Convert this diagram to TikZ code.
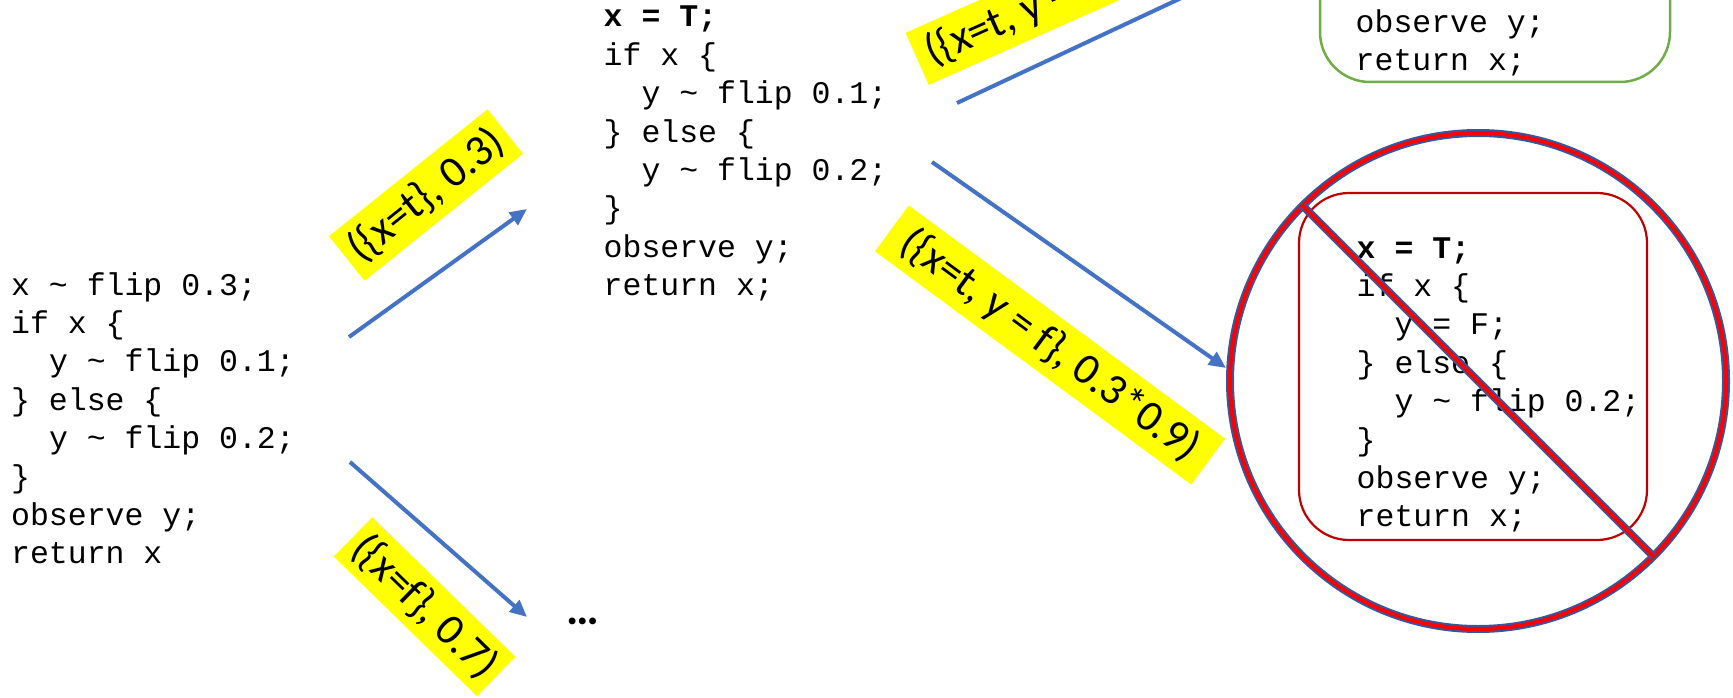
\documentclass[tikz,border=0pt]{standalone}
\usepackage{fontspec}
\setmonofont{Liberation Mono}
\newfontfamily\lblfont{Carlito}
\usetikzlibrary{arrows.meta,calc}

\definecolor{arrowblue}{RGB}{68,114,196}
\definecolor{ringblue}{RGB}{52,88,160}
\definecolor{ringred}{RGB}{255,0,0}
\definecolor{boxred}{RGB}{192,0,0}
\definecolor{boxgreen}{RGB}{112,173,71}
\definecolor{hilite}{RGB}{255,255,0}

% one line of program text
\newcommand\cl[1]{\hbox{#1}}
\newcommand\tld{\textasciitilde{}}

\tikzset{
  code/.style={anchor=base west, inner sep=0pt,
    font=\ttfamily\fontsize{31.5}{38.4}\selectfont},
  lbl/.style={fill=hilite, inner sep=0pt, minimum height=57pt,
    font=\lblfont\fontsize{44}{44}\selectfont},
  flow/.style={draw=arrowblue, line width=4pt,
    -{Triangle[length=17pt,width=15pt]}},
  roundbox/.style={rectangle, rounded corners=50pt, inner sep=0pt},
}

\begin{document}
\begin{tikzpicture}[x=1pt, y=-1pt]
  \useasboundingbox (0,0) rectangle (1733,698);
  \clip (0,0) rectangle (1733,698);
  \fill[white] (0,0) rectangle (1733,698);

  % initial program
  \node[code] (prog) at (11,295) {\vtop{%
    \cl{x \tld{} flip 0.3;}
    \cl{if x \{}
    \cl{\ \ y \tld{} flip 0.1;}
    \cl{\} else \{}
    \cl{\ \ y \tld{} flip 0.2;}
    \cl{\}}
    \cl{observe y;}
    \cl{return x}}};

  % program after choosing x = T
  \node[code] (progT) at (603.5,27) {\vtop{%
    \cl{\bfseries x = T;}
    \cl{if x \{}
    \cl{\ \ y \tld{} flip 0.1;}
    \cl{\} else \{}
    \cl{\ \ y \tld{} flip 0.2;}
    \cl{\}}
    \cl{observe y;}
    \cl{return x;}}};

  % the x = F branch is elided
  \node[font=\lblfont\bfseries\fontsize{46}{46}\selectfont, inner sep=0pt] (elided) at (583,621) {\ldots};

  % accepted branch (y = T), top right
  \node[roundbox, draw=boxgreen, line width=2.5pt,
        minimum width=350pt, minimum height=347pt] (gbox) at (1495,-91.5) {};
  \node[code] (progTT) at (1355.5,32.6) {\vtop{%
    \cl{observe y;}
    \cl{return x;}}};

  % rejected branch (y = F)
  \node[roundbox, draw=boxred, line width=2.2pt,
        minimum width=348pt, minimum height=347pt] (rbox) at (1473,366.5) {};
  \node[code] (progTF) at (1356.5,258) {\vtop{%
    \cl{\bfseries x = T;}
    \cl{if x \{}
    \cl{\ \ y = F;}
    \cl{\} else \{}
    \cl{\ \ y \tld{} flip 0.2;}
    \cl{\}}
    \cl{observe y;}
    \cl{return x;}}};

  % "no" sign over the rejected branch
  \coordinate (ring) at (1478,381);
  \coordinate (slashA) at ($(ring)+(-175.4,-175.4)$);
  \coordinate (slashB) at ($(ring)+(175.4,175.4)$);
  \draw[ringblue, line width=8pt] (ring) circle (248pt);
  \draw[ringred, line width=4pt] (ring) circle (248pt);
  \draw[ringblue, line width=8pt] (slashA) -- (slashB);
  \draw[ringred, line width=4pt] (slashA) -- (slashB);

  % transitions
  \coordinate (a1s) at (349,337);
  \coordinate (a1e) at (527,209);
  \coordinate (a2s) at (350,462);
  \coordinate (a2e) at (527,617);
  \coordinate (a3s) at (957,103);
  \coordinate (a3e) at (1318,-66);
  \coordinate (a4s) at (932,162);
  \coordinate (a4e) at (1226,368);
  \draw[flow] (a1s) -- (a1e);
  \draw[flow] (a2s) -- (a2e);
  \draw[flow] (a3s) -- (a3e);
  \draw[flow] (a4s) -- (a4e);

  % transition labels
  \node[lbl, rotate=38.7, minimum width=203pt] (l1) at (426,195)
    {(\{x=t\}, 0.3)};
  \node[lbl, rotate=-44.3, minimum width=200pt, minimum height=55pt] (l2) at (424.6,606.7)
    {(\{x=f\}, 0.7)};
  \node[lbl, rotate=-36.4, minimum width=393pt] (l3) at (1050,345)
    {(\{x=t, y = f\}, 0.3*0.9)};
  \node[lbl, rotate=24, anchor=west, minimum width=420pt] (l4) at (917,59)
    {\makebox[410pt][l]{\hspace{6pt}(\{x=t, y =}};
\end{tikzpicture}
\end{document}
